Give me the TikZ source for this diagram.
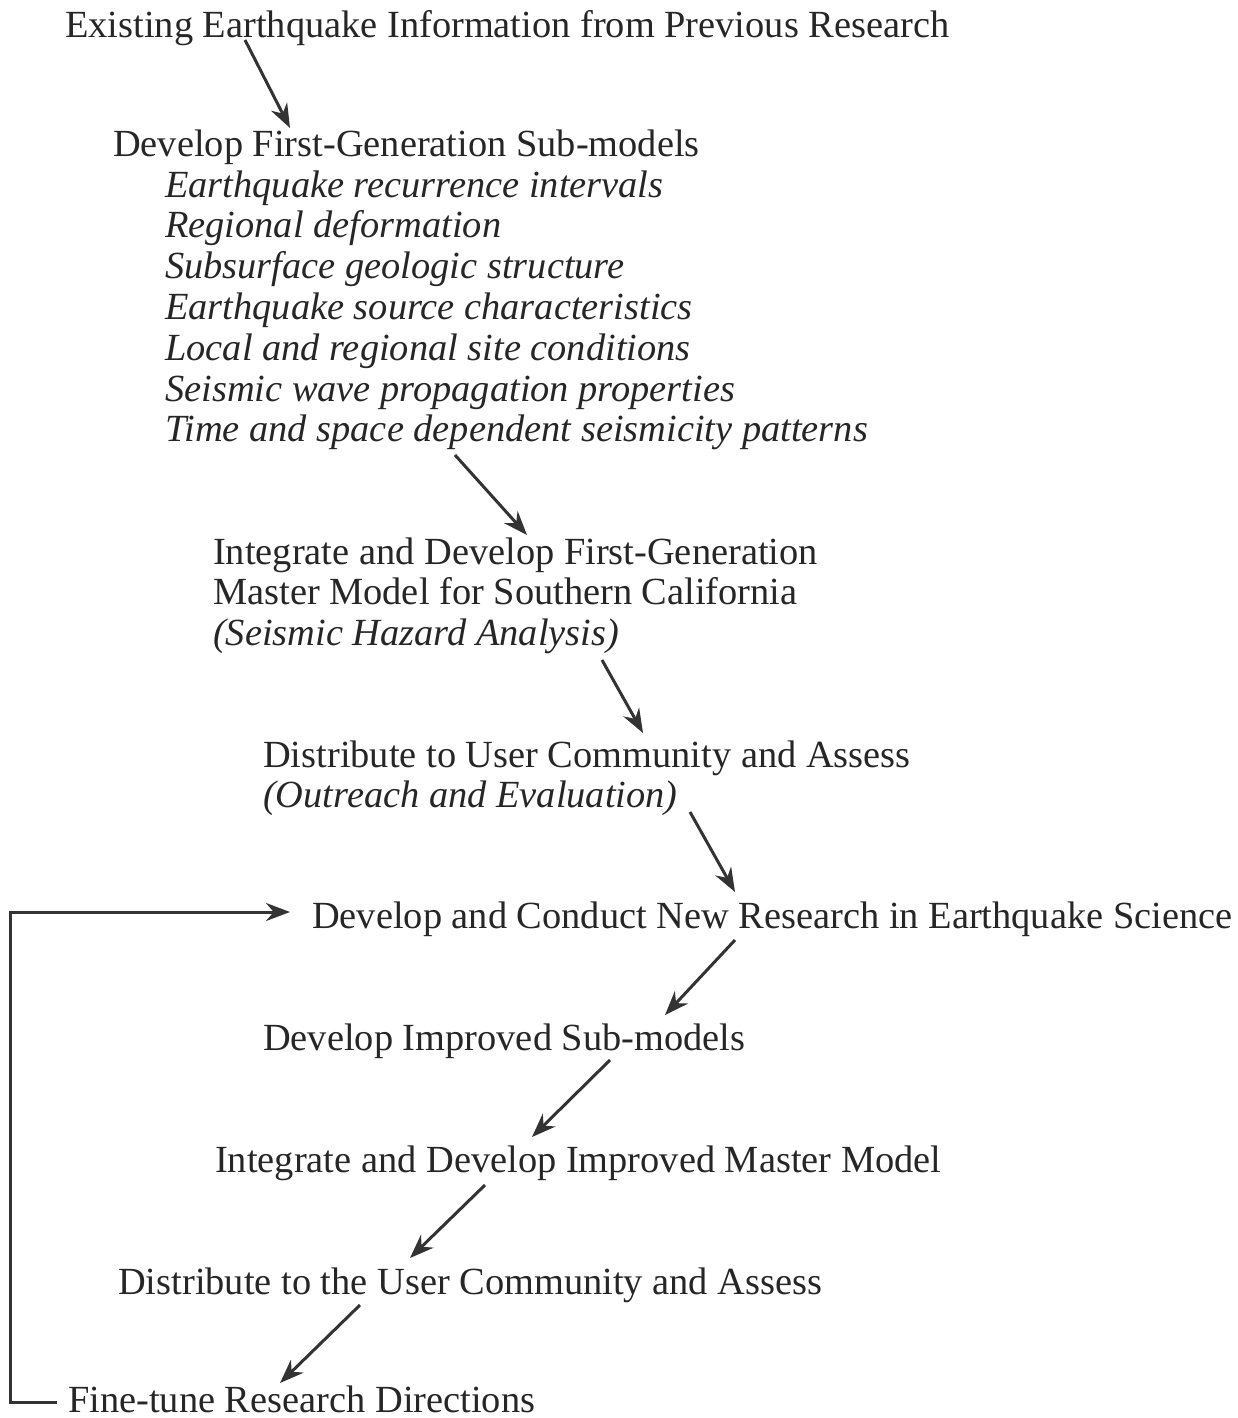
\documentclass[tikz,border=0pt]{standalone}
\usepackage{fontspec}
\setmainfont{Liberation Serif}
\usetikzlibrary{arrows.meta,calc}

\begin{document}
\begin{tikzpicture}[x=1pt,y=-1pt,
    every node/.style={inner sep=0pt, anchor=base west, align=left,
        text=black!85, font=\fontsize{38.4}{40.8}\selectfont},
    flow/.style={-{Stealth[length=24pt,width=18pt]}, line width=3pt, draw=black!80}
  ]
  \useasboundingbox (0,0) rectangle (1238,1418);

  % steps of the first generation
  \node (exist)  at (65,38)     {Existing Earthquake Information from Previous Research};
  \node (dev1)   at (113,157)   {Develop First-Generation Sub-models};
  \node (subs)   at (165,441.8) {\itshape Earthquake recurrence intervals\\
                                 \itshape Regional deformation\\
                                 \itshape Subsurface geologic structure\\
                                 \itshape Earthquake source characteristics\\
                                 \itshape Local and regional site conditions\\
                                 \itshape Seismic wave propagation properties\\
                                 \itshape Time and space dependent seismicity patterns};
  \node (integ1) at (213,645.6) {Integrate and Develop First-Generation\\
                                 Master Model for Southern California\\
                                 \itshape (Seismic Hazard Analysis)};
  \node (dist1)  at (263,807.8) {Distribute to User Community and Assess\\
                                 \itshape (Outreach and Evaluation)};

  % the research loop
  \node (newres) at (312,928)  {Develop and Conduct New Research in Earthquake Science};
  \node (improv) at (263,1050) {Develop Improved Sub-models};
  \node (integ2) at (215,1172) {Integrate and Develop Improved Master Model};
  \node (dist2)  at (118,1294) {Distribute to the User Community and Assess};
  \node (fine)   at (68,1412)  {Fine-tune Research Directions};

  \draw[flow] ([shift={(180,2)}]exist.base west)     -- ([shift={(177,-29)}]dev1.base west);
  \draw[flow] ([shift={(290,13.2)}]subs.base west)   -- ([shift={(314,-110.6)}]integ1.base west);
  \draw[flow] ([shift={(389,14.4)}]integ1.base west) -- ([shift={(380,-74.8)}]dist1.base west);
  \draw[flow] ([shift={(427,4.2)}]dist1.base west)   -- ([shift={(423,-36)}]newres.base west);
  \draw[flow] ([shift={(423,12)}]newres.base west)   -- ([shift={(402,-35)}]improv.base west);
  \draw[flow] ([shift={(347,10)}]improv.base west)   -- ([shift={(317,-35)}]integ2.base west);
  \draw[flow] ([shift={(270,13)}]integ2.base west)   -- ([shift={(292,-36)}]dist2.base west);
  \draw[flow] ([shift={(242,11)}]dist2.base west)    -- ([shift={(212,-29)}]fine.base west);
  \draw[flow] ([shift={(-11,-10)}]fine.base west) -- ++(-47,0)
              |- ([shift={(-22,-16)}]newres.base west);
\end{tikzpicture}
\end{document}
